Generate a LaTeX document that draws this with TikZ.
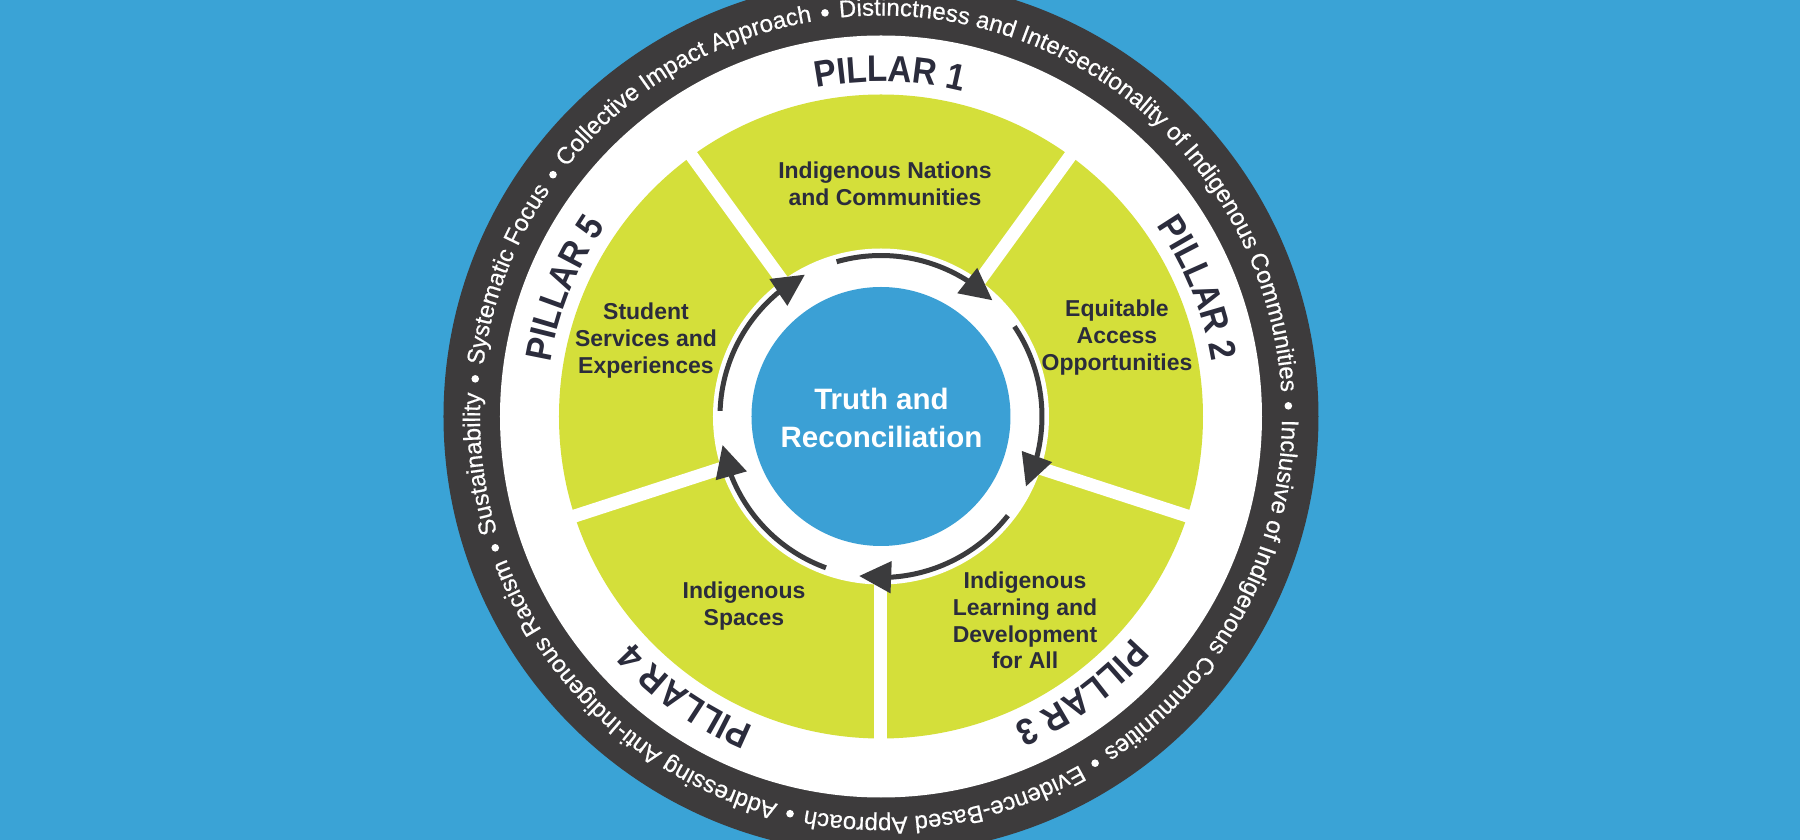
\documentclass[tikz,border=0pt]{standalone}
\usepackage{fontspec}
\setmainfont{Liberation Sans}
\newfontfamily\pillarfont[FakeStretch=0.9]{Liberation Sans}
\newfontfamily\ringfont[FakeBold=0.5]{Liberation Sans}
\usetikzlibrary{decorations.text,arrows.meta,bending}
\definecolor{bgblue}{HTML}{3AA3D6}
\definecolor{coreblue}{HTML}{3BA0D5}
\definecolor{ringdark}{HTML}{3D3B3C}
\definecolor{leaf}{HTML}{D4DF3A}
\definecolor{textdark}{HTML}{2B2C3C}
\definecolor{arrowdark}{HTML}{3B3B3D}
\newcommand\ringfmt{\color{white}\ringfont\fontsize{24}{24}\selectfont}
\newcommand\pillarfmt{\color{textdark}\pillarfont\bfseries\fontsize{37}{37}\selectfont}
\newcommand\ringseg[3]{\path[decorate,decoration={text along path,text align=center,text={|\ringfmt|#3}}] (#1:401) arc[start angle=#1,end angle=#2,radius=401];}
\newcommand\pillarlbl[2]{\path[decorate,decoration={text along path,text align=center,text={|\pillarfmt|#2}}] ({#1+45}:335) arc[start angle={#1+45},end angle={#1-45},radius=335];}
\tikzset{
  sectortext/.style={anchor=north,inner sep=0pt,align=center,text=textdark,font=\bfseries\fontsize{23}{26.7}\selectfont},
  coretext/.style={anchor=north,inner sep=0pt,align=center,text=white,font=\bfseries\fontsize{29.5}{37.5}\selectfont},
  cyclearrow/.style={draw=arrowdark,line width=5pt,-{Triangle[length=32pt,width=31pt]}},
  spoke/.style={draw=white,line width=13pt},
  bulletdot/.style={fill=white}
}
\begin{document}
\begin{tikzpicture}[x=1pt,y=1pt]
\useasboundingbox (-881,-423.5) rectangle (919,416.5);
\fill[bgblue] (-881,-423.5) rectangle (919,416.5);
% rings
\fill[ringdark] (0,0) circle (437.5);
\fill[white] (0,0) circle (381);
\fill[leaf] (0,0) circle (322);
\foreach \a in {54,126,198,270,342} \draw[spoke] (0,0) -- (\a:332);
\fill[white] (0,0) circle (168);
\fill[coreblue] (0,0) circle (129.5);
% cycle arrows
\foreach \k in {0,...,4} {
  \pgfmathsetmacro\sa{106-72*\k}
  \pgfmathsetmacro\ea{46.2-72*\k}
  \coordinate (tail\k) at (\sa:161);
  \draw[cyclearrow] (tail\k) arc[start angle=\sa,end angle=\ea,radius=161];
}
% centre text
\node[coretext] (core) at (0.5,28.5) {Truth and\\Reconciliation};
% sector texts
\node[sectortext] (s1) at (4,254.5) {Indigenous Nations\\and Communities};
\node[sectortext] (s2) at (236,116.5) {Equitable\\Access\\Opportunities};
\node[sectortext] (s3) at (144,-155.5) {Indigenous\\Learning and\\Development\\for All};
\node[sectortext] (s4) at (-137,-165.5) {Indigenous\\Spaces};
\node[sectortext] (s5) at (-235,113.5) {Student\\Services and\\Experiences};
% pillar labels
\pillarlbl{88.5}{PILLAR 1}
\pillarlbl{22}{PILLAR 2}
\pillarlbl{-54}{PILLAR 3}
\pillarlbl{-125}{PILLAR 4}
\pillarlbl{158}{PILLAR 5}
% ring texts
\ringseg{97.9}{1.5}{Distinctness and Intersectionality of Indigenous Communities}
\ringseg{1.5}{-58.3}{Inclusive of Indigenous Communities}
\ringseg{-58.3}{-102.9}{Evidence-Based Approach}
\ringseg{-102.9}{-161.2}{Addressing Anti-Indigenous Racism}
\ringseg{198.8}{174.7}{Sustainability}
\ringseg{174.7}{143.6}{Systematic Focus}
\ringseg{143.6}{97.9}{Collective Impact Approach}
\foreach \b in {97.9,1.5,-58.3,-102.9,-161.2,174.7,143.6} \fill[bulletdot] (\b:407.5) circle (3.8);
\end{tikzpicture}
\end{document}
